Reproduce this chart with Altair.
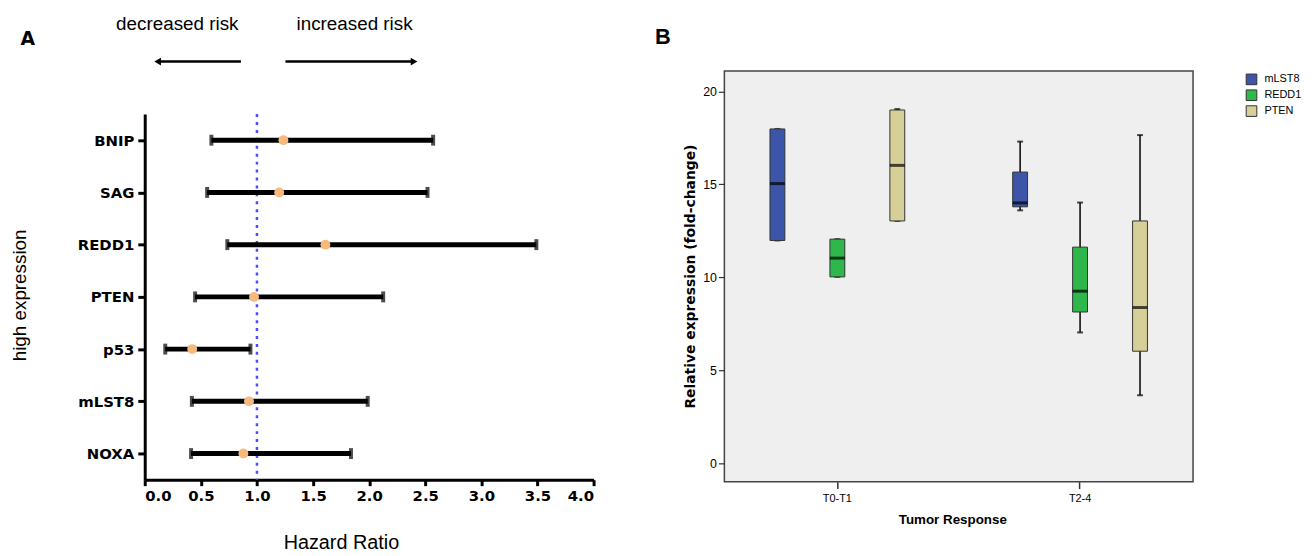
import altair as alt
import pandas as pd

# ---------------- Panel A data (hazard ratios) ----------------
genes = ["BNIP", "SAG", "REDD1", "PTEN", "p53", "mLST8", "NOXA"]
hazard_ratio = [1.236, 1.198, 1.61, 0.974, 0.423, 0.929, 0.879]
ci_low = [0.594, 0.556, 0.736, 0.449, 0.183, 0.42, 0.413]
ci_high = [2.57, 2.52, 3.49, 2.125, 0.942, 1.987, 1.838]
reference_hr = [1.0]
hr_ticks = [0.0, 0.5, 1.0, 1.5, 2.0, 2.5, 3.0, 3.5, 4.0]

risk_labels = ["decreased risk", "increased risk"]
risk_label_x = [0.29, 1.87]
arrow_tail = [0.857, 1.254]
arrow_head = [0.115, 2.40]
arrow_shape = ["triangle-left", "triangle-right"]

# ---------------- Panel B data (box summaries) ----------------
response = ["T0-T1", "T0-T1", "T0-T1", "T2-4", "T2-4", "T2-4"]
marker = ["mLST8", "REDD1", "PTEN", "mLST8", "REDD1", "PTEN"]
whisker_low = [11.98, 10.02, 13.03, 13.6, 7.03, 3.65]
q1 = [11.98, 10.02, 13.03, 13.79, 8.13, 6.02]
median = [15.04, 11.03, 16.02, 14.0, 9.25, 8.37]
q3 = [17.98, 12.05, 19.0, 15.66, 11.62, 13.03]
whisker_high = [17.98, 12.05, 19.05, 17.3, 14.02, 17.65]
response_order = ["T0-T1", "T2-4"]
marker_order = ["mLST8", "REDD1", "PTEN"]
marker_colors = ["#3D55A8", "#2FB74B", "#D6CF97"]
expr_ticks = [0, 5, 10, 15, 20]

# shared plot-top for both panels; panel A's axis starts lower
PLOT_H = 412.5
A_AXIS_TOP = 43.5

# ================= Panel A =================
dfA = pd.DataFrame({"gene": genes, "hr": hazard_ratio, "lo": ci_low, "hi": ci_high})
dfCapsA = pd.concat([pd.DataFrame({"gene": genes, "v": ci_low}),
                     pd.DataFrame({"gene": genes, "v": ci_high})])
dfRef = pd.DataFrame({"v": reference_hr})
dfArrow = pd.DataFrame({"label": risk_labels, "tx": risk_label_x, "tail": arrow_tail,
                        "head": arrow_head, "shape": arrow_shape})

xsA = alt.Scale(domain=[0, 4], nice=False, zero=False)
x_axis_A = alt.Axis(values=hr_ticks, format=".1f", labelFont="DejaVu Sans", labelFontWeight="bold",
                    labelFontSize=15, labelColor="black", labelPadding=3, domainColor="black",
                    domainWidth=3, tickColor="black", tickWidth=3, tickSize=6, grid=False,
                    title="Hazard Ratio", titleFont="Liberation Sans", titleFontWeight="normal",
                    titleFontSize=20, titleColor="black", titleX=198, titleY=63,
                    titleBaseline="middle", titleAlign="center")
ysA = alt.Scale(domain=genes, type="point", padding=0.5, range=[A_AXIS_TOP, PLOT_H])
y_axis_A = alt.Axis(labelFont="DejaVu Sans", labelFontWeight="bold", labelFontSize=15,
                    labelColor="black", labelPadding=4, domainColor="black", domainWidth=3,
                    tickColor="black", tickWidth=3, tickSize=7, grid=False,
                    title="high expression", titleFont="Liberation Sans", titleFontWeight="normal",
                    titleFontSize=19, titleColor="black", titleX=-126, titleY=226,
                    titleBaseline="middle", titleAlign="center")


def XA(field):
    return alt.X(field, type="quantitative", scale=xsA, axis=x_axis_A)


def YA():
    return alt.Y("gene:N", scale=ysA, axis=y_axis_A)


ref_line = alt.Chart(dfRef).mark_rule(color="#4B4BFF", strokeDash=[3, 5], strokeWidth=2.5).encode(
    x=XA("v"), y=alt.value(A_AXIS_TOP), y2=alt.value(PLOT_H))
err = alt.Chart(dfA).mark_rule(color="black", strokeWidth=5).encode(
    x=XA("lo"), x2="hi", y=YA())
caps = alt.Chart(dfCapsA).mark_tick(color="black", orient="vertical", size=11, thickness=4).encode(
    x=XA("v"), y=YA())
pts = alt.Chart(dfA).mark_circle(color="#F6B97E", size=100, opacity=1).encode(
    x=XA("hr"), y=YA())
arrow_lines = alt.Chart(dfArrow).mark_rule(color="black", strokeWidth=2.5).encode(
    x=XA("tail"), x2="head", y=alt.value(-9.5))
arrow_heads = alt.Chart(dfArrow).mark_point(filled=True, color="black", size=60, opacity=1).encode(
    x=XA("head"), y=alt.value(-9.5), shape=alt.Shape("shape:N", scale=None))
arrow_text = alt.Chart(dfArrow).mark_text(font="Liberation Sans", fontSize=19, color="black",
                                          baseline="alphabetic").encode(
    x=XA("tx"), y=alt.value(-41.5), text="label:N")
label_a = alt.Chart(pd.DataFrame({"t": ["A"]})).mark_text(
    font="DejaVu Sans", fontWeight="bold", fontSize=19, color="black").encode(
    x=alt.value(-118), y=alt.value(-32.5), text="t:N")

panelA = alt.layer(ref_line, err, caps, pts, arrow_lines, arrow_heads, arrow_text, label_a).properties(
    width=453, height=PLOT_H, view=alt.ViewBackground(stroke="transparent"))

# ================= Panel B =================
dfB = pd.DataFrame({"response": response, "marker": marker, "wlo": whisker_low, "q1": q1,
                    "med": median, "q3": q3, "whi": whisker_high})
dfCapsB = pd.concat([pd.DataFrame({"response": response, "marker": marker, "v": whisker_low}),
                     pd.DataFrame({"response": response, "marker": marker, "v": whisker_high})])

x_axis_B = alt.Axis(labelFont="Liberation Sans", labelFontSize=11, labelColor="black", labelPadding=4,
                    domain=False, tickColor="#333", tickWidth=1.5, tickSize=7, grid=False, labelAngle=0,
                    title="Tumor Response", titleFont="Liberation Sans", titleFontWeight="bold",
                    titleFontSize=13.5, titleColor="black", titleX=230, titleY=38,
                    titleBaseline="middle", titleAlign="center")
y_axis_B = alt.Axis(values=expr_ticks, labelFont="Liberation Sans", labelFontSize=12.5, labelColor="black",
                    labelPadding=2, domain=False, tickColor="#333", tickWidth=1.2, tickSize=6, grid=False,
                    title="Relative expression (fold-change)", titleFont="DejaVu Sans",
                    titleFontWeight="bold", titleFontSize=14, titleColor="black", titleX=-34,
                    titleY=207, titleBaseline="middle", titleAlign="center")
xsB = alt.Scale(domain=response_order, type="band", paddingInner=0.259, paddingOuter=0.095)
xoB = alt.XOffset("marker:N", scale=alt.Scale(domain=marker_order, type="band",
                                              paddingInner=0, paddingOuter=0))
ysB = alt.Scale(domain=[-1.0, 21.1], nice=False, zero=False)


def XB():
    return alt.X("response:N", scale=xsB, axis=x_axis_B)


def YB(field):
    return alt.Y(field, type="quantitative", scale=ysB, axis=y_axis_B)


whiskers = alt.Chart(dfB).mark_rule(color="black", strokeWidth=1.5).encode(
    x=XB(), xOffset=xoB, y=YB("wlo"), y2="whi")
wcaps = alt.Chart(dfCapsB).mark_tick(color="black", size=6, thickness=2).encode(
    x=XB(), xOffset=xoB, y=YB("v"))
boxes = alt.Chart(dfB).mark_bar(size=15, stroke="#333", strokeWidth=1).encode(
    x=XB(), xOffset=xoB, y=YB("q1"), y2="q3",
    color=alt.Color("marker:N", scale=alt.Scale(domain=marker_order, range=marker_colors),
                    legend=alt.Legend(title=None, orient="none", legendX=1111, legendY=2.5,
                                      symbolType="square", symbolSize=115, symbolStrokeColor="#333",
                                      symbolStrokeWidth=1, symbolOpacity=1, labelFont="Liberation Sans",
                                      labelFontSize=11, labelColor="black", labelOffset=7,
                                      rowPadding=0)))
medians = alt.Chart(dfB).mark_tick(color="black", size=15, thickness=3).encode(
    x=XB(), xOffset=xoB, y=YB("med"))
label_b = alt.Chart(pd.DataFrame({"t": ["B"]})).mark_text(
    font="Liberation Sans", fontWeight="bold", fontSize=22, color="black").encode(
    x=alt.value(-62), y=alt.value(-34.5), text="t:N")

panelB = alt.layer(whiskers, wcaps, boxes, medians, label_b).properties(
    width=473, height=414.5,
    view=alt.ViewBackground(fill="#EFEFEF", stroke="#444", strokeWidth=1.5))

chart = alt.hconcat(panelA, panelB, spacing=59).properties(
    padding={"left": 2, "top": 4, "right": 5, "bottom": 5}, background="white")

chart.save("out.html", embed_options={"renderer": "svg", "actions": False})
